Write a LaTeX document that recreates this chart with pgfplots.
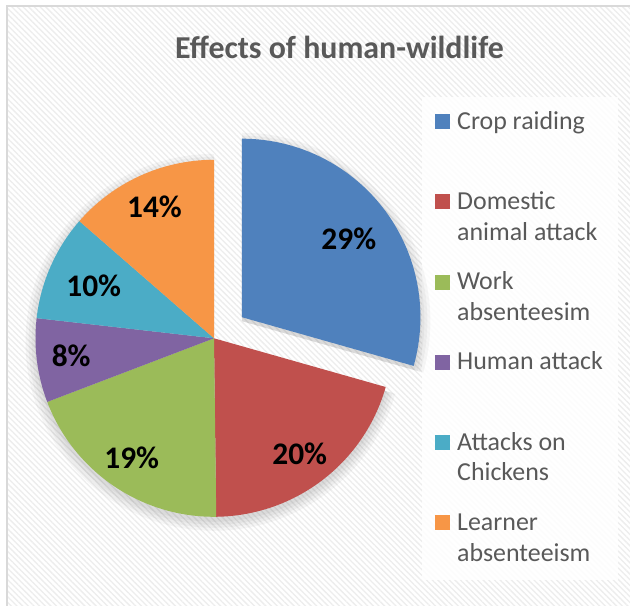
\documentclass[border=0pt]{standalone}
\usepackage{fontspec}
\setmainfont{Carlito}
\usepackage{pgfplots}
\pgfplotsset{compat=1.18}
\usetikzlibrary{patterns.meta}

\definecolor{cblue}{HTML}{4F81BD}
\definecolor{cred}{HTML}{C0504D}
\definecolor{cgreen}{HTML}{9BBB59}
\definecolor{cpurple}{HTML}{8064A2}
\definecolor{ccyan}{HTML}{4BACC6}
\definecolor{corange}{HTML}{F79646}
\definecolor{txt}{HTML}{595959}

% data (percent)
\def\vA{29.4} % Crop raiding
\def\vB{20.4} % Domestic animal attack
\def\vC{19.4} % Work absenteesim
\def\vD{7.6}  % Human attack
\def\vE{9.6}  % Attacks on Chickens
\def\vF{13.6} % Learner absenteeism

% cumulative angles (clockwise from 12 o'clock)
\pgfmathsetmacro\aA{90}
\pgfmathsetmacro\aB{\aA-3.6*\vA}
\pgfmathsetmacro\aC{\aB-3.6*\vB}
\pgfmathsetmacro\aD{\aC-3.6*\vC}
\pgfmathsetmacro\aE{\aD-3.6*\vD}
\pgfmathsetmacro\aF{\aE-3.6*\vE}
\pgfmathsetmacro\aG{\aF-3.6*\vF}
% geometry
\def\cx{214}\def\cy{267.7}\def\R{178.5}
\pgfmathsetmacro\mid{(\aA+\aB)/2}
\pgfmathsetmacro\ecx{\cx+35*cos(\mid)}
\pgfmathsetmacro\ecy{\cy+35*sin(\mid)}

\newcommand\legitem[3]{% #1 colour, #2 baseline y (axis units), #3 text
  \fill[#1] (axis cs:435,#2) rectangle (axis cs:450,#2+15);
  \node[anchor=base west, inner sep=0pt, font=\fontsize{26}{31}\selectfont, text=txt]
    at (axis cs:457,#2) {\parbox[t]{170bp}{#3}};
}

\begin{document}
\begin{tikzpicture}
\useasboundingbox (0,0) rectangle (630bp,606bp);
\fill[white] (0,0) rectangle (630bp,606bp);
\fill[pattern={Lines[angle=-45,distance=4bp,line width=1.3bp]}, pattern color=black!7] (7bp,-10bp) rectangle (640bp,600bp);
\draw[line width=1.5bp, color=black!15] (7bp,-10bp) -- (7bp,600bp) -- (640bp,600bp);
\begin{axis}[
  at={(0,0)}, anchor=south west,
  scale only axis, width=630bp, height=606bp,
  xmin=0, xmax=630, ymin=0, ymax=606,
  hide axis, clip=false,
]
% legend box
\fill[white, opacity=0.85] (axis cs:422,509) rectangle (axis cs:618,26);
% shadows
\pgfplotsinvokeforeach{10,7,4,1}{
\addplot[forget plot, fill=black, fill opacity=0.035, draw=none, domain=\aG:\aB, samples=90]
  ({\cx+(\R+#1)*cos(x)}, {\cy-4+(\R+#1)*sin(x)}) -- (axis cs:\cx,\cy-4) -- cycle;
\addplot[forget plot, fill=black, fill opacity=0.035, draw=none, domain=\aB:\aA, samples=60]
  ({\ecx+(\R+#1)*cos(x)}, {\ecy-4+(\R+#1)*sin(x)}) -- (axis cs:\ecx,\ecy-4) -- cycle;
}
% slices
\addplot[fill=cblue, draw=none, domain=\aB:\aA, samples=80]
  ({\ecx+\R*cos(x)}, {\ecy+\R*sin(x)}) -- (axis cs:\ecx,\ecy) -- cycle;
\addplot[fill=cred, draw=none, domain=\aC:\aB, samples=60]
  ({\cx+\R*cos(x)}, {\cy+\R*sin(x)}) -- (axis cs:\cx,\cy) -- cycle;
\addplot[fill=cgreen, draw=none, domain=\aD:\aC, samples=60]
  ({\cx+\R*cos(x)}, {\cy+\R*sin(x)}) -- (axis cs:\cx,\cy) -- cycle;
\addplot[fill=cpurple, draw=none, domain=\aE:\aD, samples=30]
  ({\cx+\R*cos(x)}, {\cy+\R*sin(x)}) -- (axis cs:\cx,\cy) -- cycle;
\addplot[fill=ccyan, draw=none, domain=\aF:\aE, samples=30]
  ({\cx+\R*cos(x)}, {\cy+\R*sin(x)}) -- (axis cs:\cx,\cy) -- cycle;
\addplot[fill=corange, draw=none, domain=\aG:\aF, samples=40]
  ({\cx+\R*cos(x)}, {\cy+\R*sin(x)}) -- (axis cs:\cx,\cy) -- cycle;
% legend
\legitem{cblue}{476.7}{Crop raiding}
\legitem{cred}{396.5}{Domestic\\animal attack}
\legitem{cgreen}{316.3}{Work\\absenteesim}
\legitem{cpurple}{236.1}{Human attack}
\legitem{ccyan}{155.9}{Attacks on\\Chickens}
\legitem{corange}{75.7}{Learner\\absenteeism}
% data labels
\begin{scope}[every node/.style={font=\fontsize{31.5}{36}\selectfont\bfseries, text=black, inner sep=0pt}]
\node at (axis cs:348.8,367.2) {29\%};
\node at (axis cs:299.7,152) {20\%};
\node at (axis cs:131.7,148.5) {19\%};
\node at (axis cs:71.2,249.7) {8\%};
\node at (axis cs:93.7,320) {10\%};
\node at (axis cs:154.5,399.3) {14\%};
\end{scope}
% title
\node[anchor=base, font=\fontsize{32}{38}\selectfont\bfseries, text=txt] at (axis cs:339.5,547) {Effects of human-wildlife};
\end{axis}
\end{tikzpicture}
\end{document}
